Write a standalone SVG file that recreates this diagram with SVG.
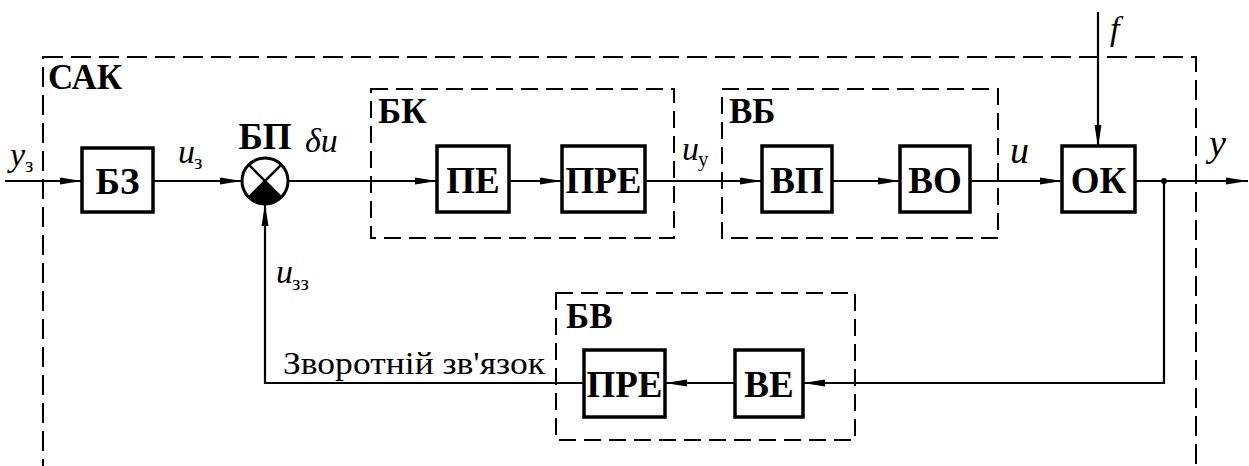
<svg xmlns="http://www.w3.org/2000/svg" width="1249" height="466" viewBox="0 0 1249 466">
<defs>
<marker id="ah" markerWidth="22" markerHeight="10" refX="22" refY="5" orient="auto" markerUnits="userSpaceOnUse">
<path d="M0,1.5 L22,5 L0,8.5 Z" fill="#000"/>
</marker>
</defs>
<rect width="1249" height="466" fill="#fff"/>
<g id="sak">
<rect x="43" y="57" width="1153" height="430" fill="none" stroke="#000" stroke-width="2" stroke-dasharray="20 8"/>
<text x="48" y="89" font-family="Times New Roman, serif" font-size="35" font-weight="bold">САК</text>
</g>
<g id="bk">
<rect x="371" y="89" width="303" height="149" fill="none" stroke="#000" stroke-width="2" stroke-dasharray="17 8"/>
<text x="378" y="123" font-family="Times New Roman, serif" font-size="35" font-weight="bold">БК</text>
</g>
<g id="vb">
<rect x="722" y="89" width="276" height="149" fill="none" stroke="#000" stroke-width="2" stroke-dasharray="17 8"/>
<text x="729" y="123" font-family="Times New Roman, serif" font-size="35" font-weight="bold">ВБ</text>
</g>
<g id="bv">
<rect x="556" y="293" width="299" height="147" fill="none" stroke="#000" stroke-width="2" stroke-dasharray="17 8"/>
<text x="566" y="328" font-family="Times New Roman, serif" font-size="35" font-weight="bold">БВ</text>
</g>
<g id="connectors" fill="none" stroke="#000" stroke-width="2.2">
<line x1="5" y1="181" x2="82" y2="181" marker-end="url(#ah)"/>
<line x1="153" y1="181" x2="242" y2="181" marker-end="url(#ah)"/>
<line x1="288" y1="181" x2="437" y2="181" marker-end="url(#ah)"/>
<line x1="509" y1="181" x2="562" y2="181" marker-end="url(#ah)"/>
<line x1="645" y1="181" x2="762" y2="181" marker-end="url(#ah)"/>
<line x1="832" y1="181" x2="900" y2="181" marker-end="url(#ah)"/>
<line x1="970" y1="181" x2="1062" y2="181" marker-end="url(#ah)"/>
<line x1="1098" y1="12" x2="1098" y2="147" marker-end="url(#ah)"/>
<line x1="1135" y1="181" x2="1248" y2="181" marker-end="url(#ah)"/>
<circle cx="1164" cy="181" r="3" fill="#000" stroke="none"/>
<polyline points="1164,181 1164,383 803,383" marker-end="url(#ah)"/>
<line x1="735" y1="383" x2="665" y2="383" marker-end="url(#ah)"/>
<polyline points="584,383 265,383 265,204" marker-end="url(#ah)"/>
</g>
<g id="bz">
<rect x="82" y="148" width="71" height="64" fill="#fff" stroke="#000" stroke-width="3.5"/>
<text x="117.5" y="194" text-anchor="middle" font-family="Times New Roman, serif" font-size="37" font-weight="bold">БЗ</text>
</g>
<g id="bp">
<circle cx="265" cy="181" r="23" fill="#fff" stroke="#000" stroke-width="3"/>
<path d="M265,181 L281.3,197.3 A23,23 0 0 1 248.7,197.3 Z" fill="#000"/>
<line x1="248.7" y1="164.7" x2="281.3" y2="197.3" stroke="#000" stroke-width="2.5"/>
<line x1="281.3" y1="164.7" x2="248.7" y2="197.3" stroke="#000" stroke-width="2.5"/>
<text x="265" y="149" text-anchor="middle" font-family="Times New Roman, serif" font-size="37" font-weight="bold">БП</text>
</g>
<g id="pe">
<rect x="437" y="146" width="72" height="66" fill="#fff" stroke="#000" stroke-width="3.5"/>
<text x="473" y="193" text-anchor="middle" font-family="Times New Roman, serif" font-size="37" font-weight="bold">ПЕ</text>
</g>
<g id="pre1">
<rect x="562" y="146" width="83" height="66" fill="#fff" stroke="#000" stroke-width="3.5"/>
<text x="603.5" y="193" text-anchor="middle" font-family="Times New Roman, serif" font-size="37" font-weight="bold">ПРЕ</text>
</g>
<g id="vp">
<rect x="762" y="146" width="70" height="66" fill="#fff" stroke="#000" stroke-width="3.5"/>
<text x="797" y="193" text-anchor="middle" font-family="Times New Roman, serif" font-size="37" font-weight="bold">ВП</text>
</g>
<g id="vo">
<rect x="900" y="146" width="70" height="66" fill="#fff" stroke="#000" stroke-width="3.5"/>
<text x="935" y="193" text-anchor="middle" font-family="Times New Roman, serif" font-size="37" font-weight="bold">ВО</text>
</g>
<g id="ok">
<rect x="1062" y="146" width="73" height="66" fill="#fff" stroke="#000" stroke-width="3.5"/>
<text x="1098.5" y="193" text-anchor="middle" font-family="Times New Roman, serif" font-size="37" font-weight="bold">ОК</text>
</g>
<g id="ve">
<rect x="735" y="350" width="68" height="67" fill="#fff" stroke="#000" stroke-width="3.5"/>
<text x="769" y="397" text-anchor="middle" font-family="Times New Roman, serif" font-size="37" font-weight="bold">ВЕ</text>
</g>
<g id="pre2">
<rect x="584" y="350" width="81" height="67" fill="#fff" stroke="#000" stroke-width="3.5"/>
<text x="624.5" y="397" text-anchor="middle" font-family="Times New Roman, serif" font-size="37" font-weight="bold">ПРЕ</text>
</g>
<g id="labels">
<text x="10" y="166" font-family="Times New Roman, serif" font-size="34" font-style="italic">у</text>
<text x="25" y="172" font-family="Times New Roman, serif" font-size="21">з</text>
<text x="178" y="163" font-family="Times New Roman, serif" font-size="34" font-style="italic">u</text>
<text x="194" y="169" font-family="Times New Roman, serif" font-size="21">з</text>
<text x="305" y="152" font-family="Times New Roman, serif" font-size="34" font-style="italic">δu</text>
<text x="682" y="160" font-family="Times New Roman, serif" font-size="34" font-style="italic">u</text>
<text x="698" y="166" font-family="Times New Roman, serif" font-size="21">у</text>
<text x="1010" y="163" font-family="Times New Roman, serif" font-size="38" font-style="italic">u</text>
<text x="1110" y="40" font-family="Times New Roman, serif" font-size="34" font-style="italic">f</text>
<text x="1209" y="156" font-family="Times New Roman, serif" font-size="38" font-style="italic">у</text>
<text x="276" y="283" font-family="Times New Roman, serif" font-size="34" font-style="italic">u</text>
<text x="292" y="290" font-family="Times New Roman, serif" font-size="21">зз</text>
<text x="283" y="374" font-family="Times New Roman, serif" font-size="32" textLength="262" lengthAdjust="spacingAndGlyphs">Зворотній зв'язок</text>
</g>
</svg>
